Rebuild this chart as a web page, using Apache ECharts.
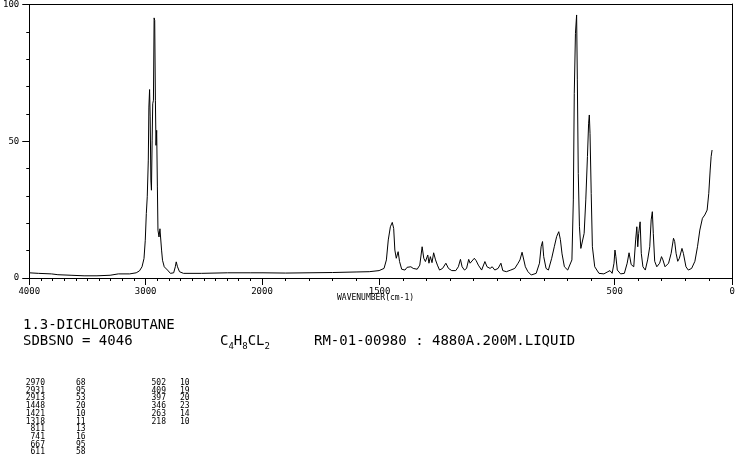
<!DOCTYPE html>
<html><head><meta charset="utf-8">
<script src="https://cdn.jsdelivr.net/npm/echarts@6/dist/echarts.min.js"></script>
<style>html,body{margin:0;padding:0;background:#fff}#c{width:738px;height:457px}</style>
</head><body><div id="c"></div>
<script>
// Spectrum, 4000-2000 cm-1 region (compressed scale)
const wnHigh = [4000,3922,3809,3754,3641,3529,3418,3305,3235,3137,3081,3053,3031,3014,3003,2994,2986,2977,2972,2966,2961,2955,2950,2944,2939,2933,2927,2922,2916,2911,2905,2899,2894,2885,2877,2868,2863,2855,2840,2824,2812,2787,2759,2745,2737,2726,2709,2675,2521,2297,2101,2000];
const intHigh = [1.9,1.7,1.5,1.2,1.0,0.8,0.8,1.0,1.5,1.5,1.9,2.6,4.1,7.1,13.8,23.6,29.7,43.1,62.5,68.9,58.9,35.8,32.1,50.4,63.7,65,95.1,94.2,65,48.5,54,33.3,17.5,15,18,17.5,10.2,6.5,4.1,3.5,2.9,1.7,1.9,4.1,5.9,4.1,2.3,1.7,1.7,1.9,1.9,1.9];
// Spectrum, 2000-0 cm-1 region (expanded scale)
const wnLow = [2000,1900,1800,1700,1600,1544,1502,1481,1471,1463,1454,1446,1440,1435,1429,1421,1415,1406,1392,1383,1376,1367,1357,1340,1329,1319,1312,1305,1295,1290,1284,1277,1270,1262,1254,1245,1232,1218,1207,1193,1176,1165,1156,1149,1139,1130,1121,1115,1107,1097,1089,1080,1066,1052,1043,1030,1021,1010,996,984,976,961,942,925,911,903,894,889,880,869,855,834,820,813,807,802,792,782,768,757,747,738,731,724,714,700,693,682,676,672,667,662,659,655,650,644,637,630,623,616,611,608,605,600,595,585,567,546,529,520,511,503,499,495,489,475,459,447,439,430,419,411,406,402,398,392,387,380,370,360,351,345,340,336,330,321,309,301,295,286,271,260,250,245,239,232,225,214,208,197,187,173,159,148,138,127,117,107,100,94,90,86];
const intLow = [1.9,1.8,1.9,2.0,2.2,2.3,2.7,3.5,6.6,13.9,18.7,20.3,18.1,10.2,7.2,9.6,6.0,3.2,2.9,3.9,3.5,4.1,3.5,3.2,4.7,11.4,7.2,6.0,8.4,5.4,7.8,5.6,9.2,6.6,4.7,2.9,3.5,5.4,3.5,2.7,2.7,4.1,6.8,4.1,2.9,3.5,6.8,5.4,6.0,7.2,6.3,4.7,2.9,6.0,4.1,3.5,4.1,2.9,3.5,5.4,2.7,2.3,2.9,3.5,5.4,6.6,9.4,8.8,4.1,2.3,1.1,1.7,5.4,11.4,13.3,7.8,3.5,2.9,7.2,11.4,15.1,16.9,14.0,8.8,4.1,2.9,2.9,6.6,28.5,67.4,89.3,96,72.3,38.2,18.7,10.8,11.4,16.3,28.5,44.3,56.5,59.5,52.8,30.9,11.4,4.1,1.7,1.5,2.3,2.7,1.7,5.4,10.2,7.8,2.9,1.5,1.7,5.4,9.2,4.9,4.1,13.9,18.7,11.4,16.3,20.5,9.0,4.1,2.9,6.6,11.4,21.2,24.2,16.3,6.1,4.1,5.4,7.8,6.6,4.1,5.4,9.0,14.5,13.3,9.0,6.1,7.2,10.8,9.0,4.1,2.9,3.5,6.1,11.4,17.5,21.8,23.0,24.8,30.9,39.4,44.3,46.7];

const yTickValues = [0, 50, 100];
const xLabelsHigh = [4000, 3000, 2000];
const xLabelsLow = [1500, 500, 0];
const xAxisName = 'WAVENUMBER(cm-1)';

const compoundName = '1.3-DICHLOROBUTANE';
const sdbsNo = 'SDBSNO = 4046';
const formulaParts = [['C','4'],['H','8'],['CL','2']];
const conditions = 'RM-01-00980 : 4880A.200M.LIQUID';
const peakWn1 = [2970,2931,2913,1448,1421,1318,811,741,667,611];
const peakInt1 = [68,95,53,20,10,11,13,16,95,58];
const peakWn2 = [502,409,397,346,263,218];
const peakInt2 = [10,19,20,23,14,10];

const FONT = 'DejaVu Sans Mono';
const BLACK = '#000';

const zip = (a, b) => a.map((v, i) => [v, b[i]]);
const plain = v => String(v);

const chart = echarts.init(document.getElementById('c'), null, {renderer: 'canvas'});

const axisLineStyle = {show: true, lineStyle: {color: BLACK, width: 1}};
const tickLine = {color: BLACK, width: 1};

const graphics = [];
function txt(x, y, text, size, align) {
  graphics.push({type: 'text', x: x, y: y, silent: true,
    style: {text: text, fontFamily: FONT, fontSize: size, fill: BLACK, align: align || 'left', verticalAlign: 'middle'}});
}
txt(337, 298, xAxisName, 8);
txt(23, 325, compoundName, 14);
txt(23, 341, sdbsNo, 14);
txt(314, 341, conditions, 14);
graphics.push({type: 'text', x: 220, y: 341, silent: true,
  style: {
    text: formulaParts.map(p => '{n|' + p[0] + '}{s|' + p[1] + '}').join(''),
    fontFamily: FONT, fill: BLACK, verticalAlign: 'middle',
    rich: {
      n: {fontFamily: FONT, fontSize: 14, fill: BLACK, lineHeight: 20, verticalAlign: 'middle'},
      s: {fontFamily: FONT, fontSize: 9, fill: BLACK, lineHeight: 20, verticalAlign: 'bottom'}
    }
  }});
const row0 = 383, rowStep = 7.7;
peakWn1.forEach((w, i) => { txt(45, row0 + i * rowStep, String(w), 8, 'right'); txt(76, row0 + i * rowStep, String(peakInt1[i]), 8, 'left'); });
peakWn2.forEach((w, i) => { txt(166, row0 + i * rowStep, String(w), 8, 'right'); txt(180, row0 + i * rowStep, String(peakInt2[i]), 8, 'left'); });

const option = {
  backgroundColor: '#fff',
  animation: false,
  grid: [
    {left: 24, top: 4, width: 238, height: 274},
    {left: 262, top: 4, width: 474, height: 274}
  ],
  xAxis: [
    {gridIndex: 0, type: 'value', min: 2000, max: 4000, inverse: true, position: 'bottom', interval: 1000,
     axisLine: axisLineStyle, axisTick: {show: true, length: 7, lineStyle: tickLine},
     minorTick: {show: true, splitNumber: 10, length: 3, lineStyle: tickLine},
     splitLine: {show: false}, minorSplitLine: {show: false},
     axisLabel: {show: true, color: BLACK, fontFamily: FONT, fontSize: 9, margin: 9, showMinLabel: true, showMaxLabel: true,
       formatter: plain}},
    {gridIndex: 0, type: 'value', min: 2000, max: 4000, inverse: true, position: 'top',
     axisLine: axisLineStyle, axisTick: {show: false}, axisLabel: {show: false}, splitLine: {show: false}},
    {gridIndex: 1, type: 'value', min: 0, max: 2000, inverse: true, position: 'bottom', interval: 100,
     axisLine: axisLineStyle, axisTick: {show: true, length: 3, lineStyle: tickLine},
     axisLabel: {show: false}, splitLine: {show: false}},
    {gridIndex: 1, type: 'value', min: 0, max: 2000, inverse: true, position: 'bottom',
     axisLine: {show: false},
     axisTick: {show: true, length: 7, lineStyle: tickLine, customValues: xLabelsLow},
     axisLabel: {show: true, color: BLACK, fontFamily: FONT, fontSize: 9, margin: 9, customValues: xLabelsLow, formatter: plain},
     splitLine: {show: false}},
    {gridIndex: 1, type: 'value', min: 0, max: 2000, inverse: true, position: 'top',
     axisLine: axisLineStyle, axisTick: {show: false}, axisLabel: {show: false}, splitLine: {show: false}}
  ],
  yAxis: [
    {gridIndex: 0, type: 'value', min: 0, max: 100, interval: 50, position: 'left',
     axisLine: axisLineStyle, axisTick: {show: true, length: 7, lineStyle: tickLine},
     minorTick: {show: true, splitNumber: 5, length: 3, lineStyle: tickLine},
     splitLine: {show: false}, minorSplitLine: {show: false},
     axisLabel: {show: true, color: BLACK, fontFamily: FONT, fontSize: 9, margin: 10, formatter: plain}},
    {gridIndex: 1, type: 'value', min: 0, max: 100, position: 'right',
     axisLine: axisLineStyle, axisTick: {show: false}, axisLabel: {show: false}, splitLine: {show: false}}
  ],
  series: [
    {type: 'line', xAxisIndex: 0, yAxisIndex: 0, data: zip(wnHigh, intHigh), showSymbol: false, symbol: 'none',
     lineStyle: {color: BLACK, width: 1}, clip: true},
    {type: 'line', xAxisIndex: 2, yAxisIndex: 1, data: zip(wnLow, intLow), showSymbol: false, symbol: 'none',
     lineStyle: {color: BLACK, width: 1}, clip: true}
  ],
  graphic: graphics
};
chart.setOption(option);
</script>
</body></html>
